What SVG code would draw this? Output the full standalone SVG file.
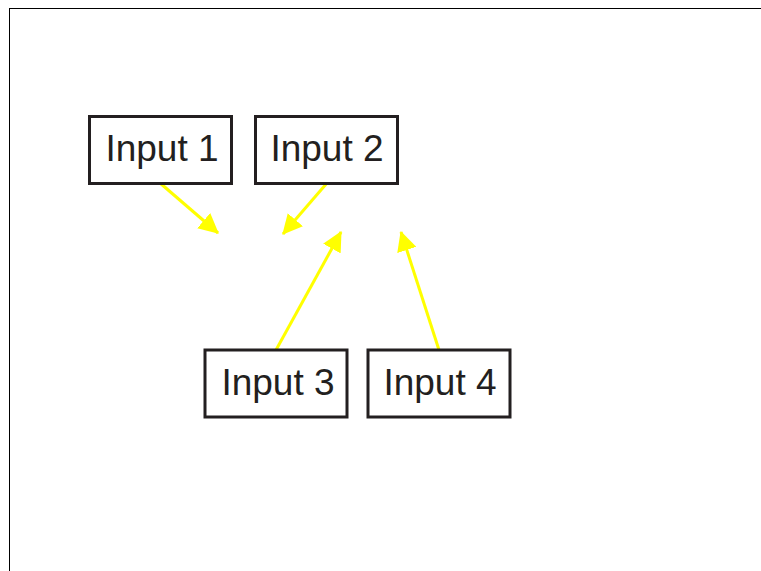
<svg xmlns="http://www.w3.org/2000/svg" width="761" height="571" viewBox="0 0 761 571">
<style>
.box{fill:#fff;stroke:#231f20;stroke-width:3}
.lbl{font-family:"Liberation Sans",Arial,sans-serif;font-size:37px;fill:#231f20;text-anchor:middle}
.con{stroke:#ffff00;stroke-width:3;fill:none}
</style>
<defs>
<marker id="ah" markerUnits="userSpaceOnUse" markerWidth="20" markerHeight="20" refX="17" refY="9" orient="auto" viewBox="0 0 18 18">
<path d="M0,0 L18,9 L0,18 Z" fill="#ffff00"/>
</marker>
</defs>
<rect x="0" y="0" width="761" height="571" fill="#fff"/>
<rect x="9.5" y="8.5" width="800" height="600" fill="none" stroke="#000" stroke-width="1"/>
<g id="connectors">
<line class="con" x1="160" y1="183" x2="218" y2="233" marker-end="url(#ah)"/>
<line class="con" x1="327" y1="183" x2="283" y2="234" marker-end="url(#ah)"/>
<line class="con" x1="276" y1="350" x2="341" y2="232" marker-end="url(#ah)"/>
<line class="con" x1="439" y1="350" x2="401" y2="232" marker-end="url(#ah)"/>
</g>
<g id="input1">
<rect class="box" x="89.5" y="116.5" width="142" height="67"/>
<text class="lbl" x="162" y="161">Input 1</text>
</g>
<g id="input2">
<rect class="box" x="255.5" y="116.5" width="142" height="67"/>
<text class="lbl" x="327" y="161">Input 2</text>
</g>
<g id="input3">
<rect class="box" x="205" y="350" width="142" height="67"/>
<text class="lbl" x="278" y="395">Input 3</text>
</g>
<g id="input4">
<rect class="box" x="368" y="350" width="142" height="67"/>
<text class="lbl" x="440" y="395">Input 4</text>
</g>
</svg>
